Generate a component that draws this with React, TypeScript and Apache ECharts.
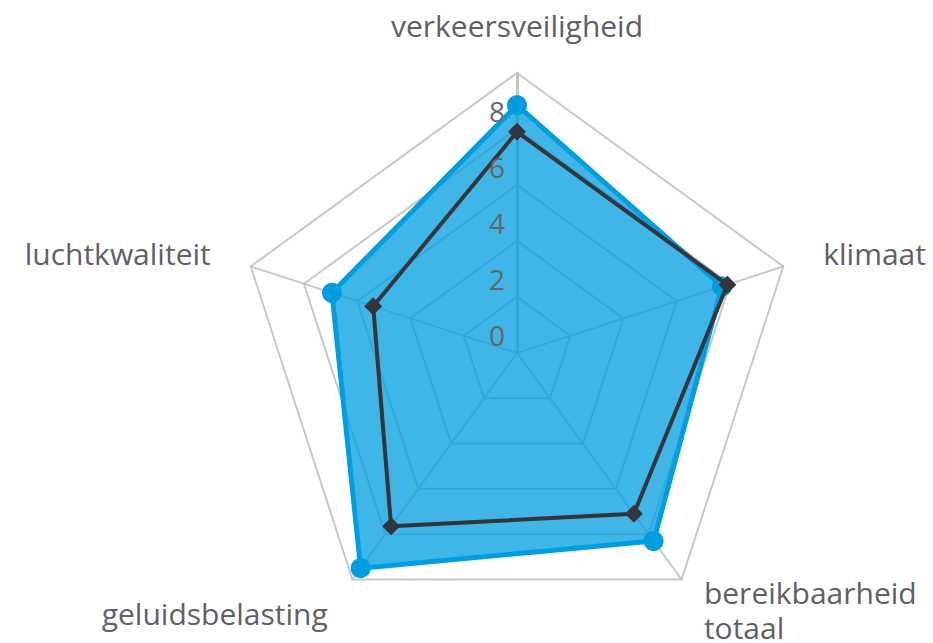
import React, { useEffect, useRef } from "react";
import * as echarts from "echarts";

// Indicators in ECharts order (counter-clockwise from the top)
const categories = [
  "verkeersveiligheid",
  "luchtkwaliteit",
  "geluidsbelasting",
  "bereikbaarheid\ntotaal",
  "klimaat",
];
const seriesBlue = [8.85, 6.95, 9.5, 8.3, 7.7];
const seriesDark = [7.9, 5.4, 7.65, 7.1, 7.9];
const axisMax = 10;
const tickInterval = 2;

const FONT = "'Open Sans', 'Noto Sans', sans-serif";
const CENTER = [517, 353];
const RADIUS = 280;

export default function App() {
  const ref = useRef<HTMLDivElement>(null);
  useEffect(() => {
    if (!ref.current) return;
    const chart = echarts.init(ref.current, undefined, { renderer: "svg" });
    const gridIndicator = categories.map((name, i) => {
      const ind: any = {
        name,
        min: 0,
        max: axisMax,
        nameGap: i === 0 ? 30 : i === 3 ? 38 : 42,
      };
      if (i === 0) {
        ind.axisLine = { lineStyle: { color: "#c4c4c4", width: 3 } };
      }
      return ind;
    });
    const labelIndicator = categories.map((name, i) => {
      const ind: any = { name: "", min: 0, max: axisMax };
      if (i === 0) {
        ind.axisLabel = {
          show: true,
          fontSize: 28,
          fontFamily: FONT,
          color: "#666666",
          margin: 12,
          verticalAlign: "bottom",
          padding: [0, 0, 4, 0],
          formatter: (v: number) => (v === axisMax ? "" : String(v)),
        };
      }
      return ind;
    });
    chart.setOption({
      animation: false,
      backgroundColor: "#ffffff",
      radar: [
        {
          z: 1,
          center: CENTER,
          radius: RADIUS,
          startAngle: 90,
          shape: "polygon",
          splitNumber: axisMax / tickInterval,
          indicator: gridIndicator,
          axisName: {
            color: "#606068",
            fontSize: 30,
            fontFamily: FONT,
            lineHeight: 35,
          },
          axisLine: { lineStyle: { color: "#c8c8c8", width: 2 } },
          splitLine: { lineStyle: { color: "#c8c8c8", width: 2 } },
          splitArea: { show: false },
          axisLabel: { show: false },
          axisTick: { show: false },
        },
        {
          z: 10,
          center: CENTER,
          radius: RADIUS,
          startAngle: 90,
          shape: "polygon",
          splitNumber: axisMax / tickInterval,
          indicator: labelIndicator,
          axisName: { show: false },
          axisLine: { show: false },
          splitLine: { show: false },
          splitArea: { show: false },
          axisLabel: { show: false },
          axisTick: { show: false },
        },
      ],
      series: [
        {
          type: "radar",
          radarIndex: 0,
          z: 2,
          data: [
            {
              value: seriesBlue,
              name: "Score",
              symbol: "circle",
              symbolSize: 20,
              itemStyle: { color: "#009ee0" },
              lineStyle: { color: "#009ee0", width: 5 },
              areaStyle: { color: "#009ee0", opacity: 0.75 },
            },
          ],
        },
        {
          type: "radar",
          radarIndex: 0,
          z: 3,
          data: [
            {
              value: seriesDark,
              name: "Referentie",
              symbol: "diamond",
              symbolSize: 18,
              itemStyle: { color: "#33363d" },
              lineStyle: { color: "#33363d", width: 4 },
            },
          ],
        },
      ],
    });
    return () => chart.dispose();
  }, []);
  return (
    <div
      ref={ref}
      style={{ position: "absolute", left: 0, top: 0, width: 933, height: 643 }}
    />
  );
}
